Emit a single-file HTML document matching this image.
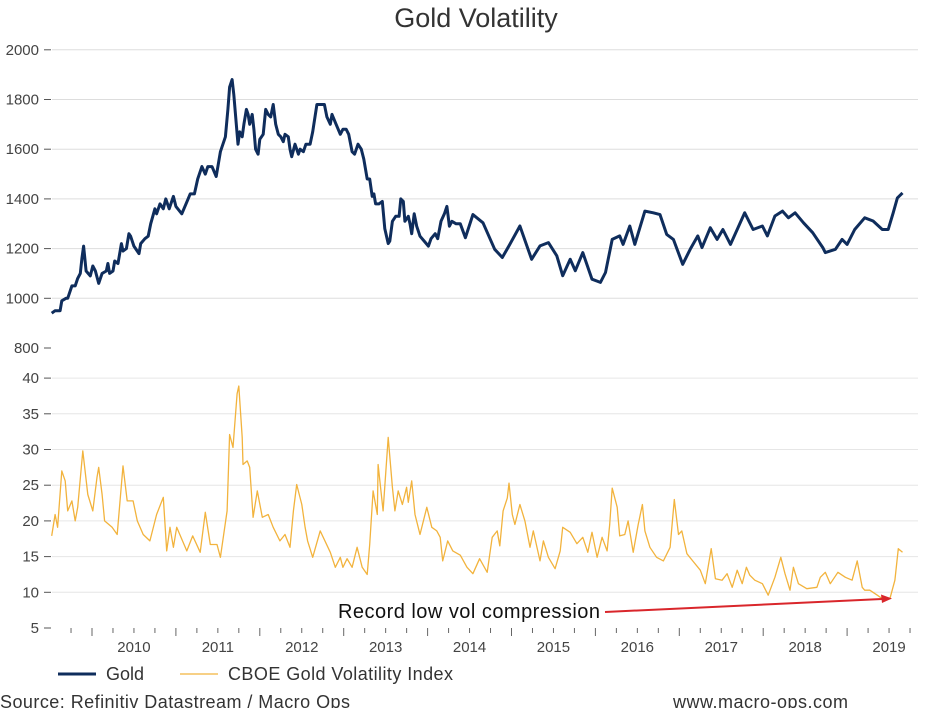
<!DOCTYPE html>
<html><head><meta charset="utf-8"><style>
body{margin:0;background:#fff;font-family:"Liberation Sans",Arial,sans-serif}
svg text{font-family:"Liberation Sans",Arial,sans-serif}
</style></head><body>
<svg id="c" width="943" height="708" viewBox="0 0 943 708" xmlns="http://www.w3.org/2000/svg">
<text x="476" y="27" text-anchor="middle" font-size="27" fill="#333">Gold Volatility</text>
<g id="grid"></g><g id="axes"></g><g id="series"></g>
<text x="338" y="618" font-size="20" fill="#111" textLength="262">Record low vol compression</text>
<line x1="605" y1="612" x2="882" y2="599" stroke="#d9262b" stroke-width="2"/>
<polygon points="892,598.5 881,594.5 882,603" fill="#d9262b"/>
<g>
<line x1="58" y1="674" x2="96" y2="674" stroke="#0f2d5c" stroke-width="3"/>
<text x="106" y="680" font-size="18" fill="#333">Gold</text>
<line x1="180" y1="674" x2="218" y2="674" stroke="#f2b33d" stroke-width="1.3"/>
<text x="228" y="680" font-size="18" fill="#333" textLength="225">CBOE Gold Volatility Index</text>
</g>
<text x="0" y="708" font-size="18" fill="#333" textLength="350">Source: Refinitiv Datastream / Macro Ops</text>
<text x="673" y="708" font-size="18" fill="#333" textLength="175">www.macro-ops.com</text>
</svg>
<script>
const goldTicks=[800,1000,1200,1400,1600,1800,2000];
const volTicks=[5,10,15,20,25,30,35,40];
const yearLabels=[2010,2011,2012,2013,2014,2015,2016,2017,2018,2019];
const goldDates=[2009.52,2009.56,2009.62,2009.64,2009.69,2009.71,2009.76,2009.80,2009.83,2009.86,2009.88,2009.90,2009.93,2009.98,2010.01,2010.04,2010.08,2010.12,2010.17,2010.19,2010.21,2010.25,2010.27,2010.31,2010.35,2010.37,2010.41,2010.44,2010.46,2010.50,2010.56,2010.58,2010.63,2010.67,2010.70,2010.75,2010.77,2010.81,2010.85,2010.88,2010.92,2010.97,2011.00,2011.07,2011.12,2011.17,2011.22,2011.26,2011.31,2011.35,2011.38,2011.43,2011.48,2011.53,2011.59,2011.62,2011.64,2011.67,2011.69,2011.72,2011.74,2011.76,2011.79,2011.81,2011.84,2011.86,2011.88,2011.91,2011.93,2011.95,2011.98,2012.00,2012.04,2012.07,2012.10,2012.13,2012.16,2012.19,2012.22,2012.25,2012.28,2012.30,2012.34,2012.36,2012.38,2012.42,2012.46,2012.48,2012.52,2012.55,2012.60,2012.63,2012.68,2012.72,2012.77,2012.80,2012.84,2012.86,2012.91,2012.96,2012.99,2013.03,2013.06,2013.10,2013.13,2013.17,2013.21,2013.24,2013.28,2013.31,2013.34,2013.36,2013.38,2013.42,2013.46,2013.49,2013.53,2013.55,2013.58,2013.62,2013.66,2013.68,2013.71,2013.73,2013.77,2013.79,2013.81,2013.84,2013.87,2013.91,2013.96,2014.01,2014.04,2014.09,2014.12,2014.16,2014.20,2014.23,2014.26,2014.29,2014.34,2014.39,2014.45,2014.54,2014.66,2014.80,2014.89,2014.98,2015.10,2015.24,2015.34,2015.44,2015.54,2015.61,2015.70,2015.76,2015.85,2015.96,2016.06,2016.12,2016.20,2016.29,2016.33,2016.41,2016.47,2016.59,2016.69,2016.77,2016.85,2016.93,2017.04,2017.13,2017.22,2017.27,2017.37,2017.45,2017.52,2017.61,2017.69,2017.78,2017.88,2017.99,2018.05,2018.14,2018.23,2018.30,2018.38,2018.48,2018.59,2018.71,2018.74,2018.86,2018.94,2019.00,2019.09,2019.21,2019.31,2019.42,2019.49,2019.55,2019.60,2019.66];
const goldValues=[940,950,950,990,1000,1000,1050,1050,1080,1100,1160,1210,1110,1090,1130,1110,1060,1100,1110,1140,1100,1110,1150,1140,1220,1190,1200,1260,1250,1210,1180,1220,1240,1250,1300,1360,1340,1380,1360,1400,1360,1410,1370,1340,1380,1420,1420,1480,1530,1500,1530,1530,1490,1590,1650,1760,1850,1880,1820,1700,1620,1670,1650,1700,1760,1740,1700,1740,1680,1600,1580,1640,1660,1760,1740,1730,1780,1700,1660,1650,1630,1660,1650,1600,1570,1620,1580,1600,1590,1620,1620,1670,1780,1780,1780,1730,1700,1740,1700,1660,1680,1680,1660,1590,1580,1620,1600,1560,1480,1480,1410,1420,1380,1380,1390,1280,1220,1230,1310,1330,1330,1400,1390,1310,1330,1300,1260,1340,1290,1250,1230,1210,1240,1260,1240,1310,1340,1370,1290,1310,1300,1300,1244,1337,1304,1197,1164,1217,1291,1157,1211,1224,1171,1091,1157,1111,1184,1077,1064,1104,1237,1251,1217,1291,1217,1351,1344,1337,1257,1237,1137,1197,1251,1204,1284,1237,1277,1217,1277,1344,1277,1291,1251,1331,1351,1324,1344,1304,1264,1204,1184,1197,1237,1217,1277,1324,1311,1277,1277,1344,1404,1424];
const volDates=[2009.52,2009.56,2009.59,2009.64,2009.68,2009.71,2009.76,2009.80,2009.83,2009.89,2009.95,2010.01,2010.06,2010.08,2010.12,2010.15,2010.24,2010.30,2010.37,2010.42,2010.49,2010.54,2010.61,2010.69,2010.77,2010.85,2010.89,2010.93,2010.97,2011.01,2011.13,2011.20,2011.29,2011.35,2011.41,2011.49,2011.53,2011.61,2011.64,2011.68,2011.73,2011.75,2011.79,2011.80,2011.85,2011.88,2011.92,2011.97,2012.03,2012.10,2012.16,2012.24,2012.30,2012.36,2012.40,2012.44,2012.50,2012.54,2012.57,2012.63,2012.72,2012.84,2012.90,2012.96,2012.99,2013.04,2013.10,2013.16,2013.22,2013.28,2013.31,2013.35,2013.40,2013.41,2013.47,2013.53,2013.58,2013.61,2013.65,2013.70,2013.75,2013.77,2013.81,2013.85,2013.91,2013.99,2014.05,2014.11,2014.15,2014.18,2014.24,2014.30,2014.39,2014.47,2014.54,2014.62,2014.71,2014.77,2014.83,2014.86,2014.90,2014.95,2014.97,2015.01,2015.04,2015.10,2015.16,2015.22,2015.26,2015.34,2015.38,2015.44,2015.52,2015.58,2015.61,2015.70,2015.78,2015.85,2015.91,2015.96,2016.02,2016.08,2016.14,2016.17,2016.20,2016.26,2016.29,2016.35,2016.39,2016.45,2016.51,2016.56,2016.59,2016.65,2016.73,2016.81,2016.89,2016.94,2016.99,2017.03,2017.09,2017.16,2017.25,2017.31,2017.38,2017.43,2017.51,2017.57,2017.63,2017.69,2017.75,2017.80,2017.84,2017.90,2017.99,2018.06,2018.14,2018.21,2018.26,2018.32,2018.36,2018.42,2018.52,2018.64,2018.68,2018.74,2018.80,2018.89,2018.98,2019.06,2019.12,2019.18,2019.21,2019.27,2019.36,2019.42,2019.51,2019.57,2019.61,2019.66];
const volValues=[17.9,20.9,19.1,27.0,25.6,21.4,22.8,20.0,21.9,29.8,23.7,21.4,26.1,27.5,23.7,20.0,19.1,18.1,27.7,22.8,22.8,20.0,18.1,17.2,20.9,23.3,15.8,19.1,16.3,19.1,15.8,17.9,15.6,21.2,16.7,16.7,14.9,21.4,32.1,30.3,37.8,38.9,31.7,27.9,28.4,27.5,20.5,24.2,20.5,20.9,19.1,17.2,18.1,16.3,21.4,25.1,22.3,19.1,17.2,14.9,18.6,15.6,13.5,14.9,13.5,14.7,13.5,16.3,13.5,12.5,16.7,24.2,20.9,27.9,21.4,31.7,24.7,21.4,24.2,22.3,24.7,22.6,25.6,20.9,18.1,21.9,19.1,18.6,17.7,14.4,17.2,15.8,15.2,13.5,12.6,14.7,12.8,17.7,18.6,16.5,21.4,23.2,25.3,20.9,19.5,22.3,20.0,16.3,18.6,14.4,17.2,14.9,13.3,15.8,19.1,18.4,16.8,17.7,15.6,18.4,14.9,17.7,15.8,19.5,24.6,21.9,17.9,18.1,20.0,15.6,19.5,22.3,18.6,16.3,14.9,14.4,16.3,23.0,18.1,18.6,15.4,14.4,13.1,11.2,16.1,11.9,11.7,12.6,10.7,13.1,11.2,13.5,12.4,11.7,11.2,9.6,12.1,14.9,12.6,10.3,13.5,11.2,10.5,10.7,12.1,12.8,11.2,12.8,12.1,11.7,14.4,10.7,10.3,10.3,9.6,9.1,9.1,11.7,16.1,15.6];

const NS='http://www.w3.org/2000/svg';
const X0=52,X1=918;
function xScale(t){return 92+(t-2010)*83.9;}
function yGold(v){return 348-(v-800)*0.2485;}
function yVol(v){return 628-(v-5)*7.14;}
function mk(tag,attrs,parent){const e=document.createElementNS(NS,tag);for(const k in attrs)e.setAttribute(k,attrs[k]);parent.appendChild(e);return e;}
const grid=document.getElementById('grid'),axes=document.getElementById('axes'),ser=document.getElementById('series');

goldTicks.forEach(v=>{const y=yGold(v);
 if(v>800){const g=mk('line',{x1:X0,x2:X1,y1:y,y2:y,stroke:'#ddd','stroke-width':1},grid);
 
 }
 const tk=mk('line',{x1:44,x2:51,y1:y,y2:y,stroke:'#555','stroke-width':1},axes);
 
 
 const t=mk('text',{x:39,y:y+5,'text-anchor':'end','font-size':15,fill:'#444'},axes);t.textContent=v;
 
 });
volTicks.forEach(v=>{const y=yVol(v);
 if(v>5){const g=mk('line',{x1:X0,x2:X1,y1:y,y2:y,stroke:'#e6e6e6','stroke-width':1},grid);
 
 }
 const tk=mk('line',{x1:44,x2:51,y1:y,y2:y,stroke:'#555','stroke-width':1},axes);
 
 
 const t=mk('text',{x:39,y:y+5,'text-anchor':'end','font-size':15,fill:'#444'},axes);t.textContent=v;
 
 });
for(let q=2009.5;q<=2019.76;q+=0.25){const x=xScale(q);if(x<X0||x>X1)continue;
 const major=Math.abs(q-Math.round(q))<0.01;
 const tk=mk('line',{x1:x,x2:x,y1:628,y2:major?636:633,stroke:'#666','stroke-width':1},axes);
 
 }
yearLabels.forEach(yr=>{const t=mk('text',{x:xScale(yr+0.5),y:652,'text-anchor':'middle','font-size':15,fill:'#444'},axes);t.textContent=yr;
 
 });

const gp=mk('path',{d:goldDates.map((t,i)=>(i?'L':'M')+xScale(t).toFixed(1)+','+yGold(goldValues[i]).toFixed(1)).join(''),fill:'none',stroke:'#0f2d5c','stroke-width':3,'stroke-linejoin':'round'},ser);


const vp=mk('path',{d:volDates.map((t,i)=>(i?'L':'M')+xScale(t).toFixed(1)+','+yVol(volValues[i]).toFixed(1)).join(''),fill:'none',stroke:'#f2b33d','stroke-width':1.3,'stroke-linejoin':'round'},ser);


</script>
</body></html>
